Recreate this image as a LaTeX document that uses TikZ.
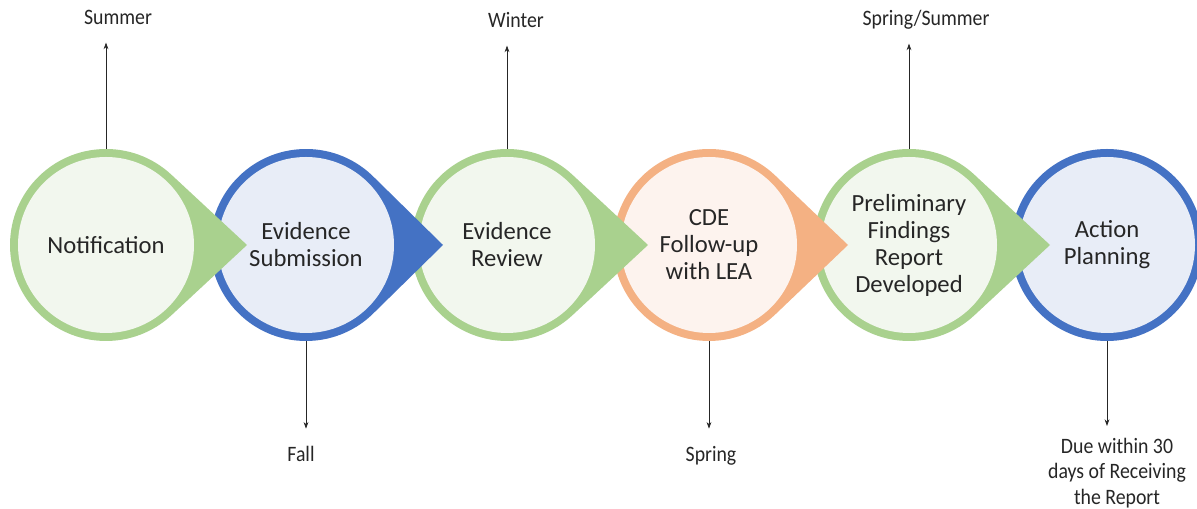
\documentclass[tikz,border=0pt]{standalone}
\usepackage{fontspec}
\setmainfont{Carlito}
\newfontfamily\lblfont[FakeStretch=0.9]{Carlito}
\usetikzlibrary{backgrounds,arrows.meta}

\definecolor{gring}{HTML}{A9D18E}
\definecolor{gfill}{HTML}{F2F7EE}
\definecolor{bring}{HTML}{4472C4}
\definecolor{bfill}{HTML}{E8EDF7}
\definecolor{oring}{HTML}{F4B183}
\definecolor{ofill}{HTML}{FDF3EE}
\definecolor{txt}{HTML}{262626}

\tikzset{
  stage/.style={circle, minimum size=144pt, inner sep=0pt, align=center,
    text=txt, font=\fontsize{18.5}{20.25}\selectfont},
  when/.style={inner sep=0pt, align=center, text=txt,
    font=\lblfont\fontsize{16.5}{19}\selectfont},
  tick/.style={->, line width=0.6pt, draw=txt, shorten >=13pt}
}

\begin{document}
\begin{tikzpicture}[x=0.75pt, y=0.75pt, >={Stealth[length=5pt, width=3.6pt]}]
    \useasboundingbox (0,-264) rectangle (1197,245);
    % stages
    \node[stage] (s1) at (106,0) {Notification};
    \node[stage] (s2) at (306,0) {Evidence\\Submission};
    \node[stage] (s3) at (507,0) {Evidence\\Review};
    \node[stage] (s4) at (709,0) {CDE\\Follow-up\\with LEA};
    \node[stage] (s5) at (909,0) {Preliminary\\Findings\\Report\\Developed};
    \node[stage] (s6) at (1107,0) {Action\\Planning};
    % pointer tips
    \coordinate (p1) at (247,0);
    \coordinate (p2) at (443,0);
    \coordinate (p3) at (648,0);
    \coordinate (p4) at (848,0);
    \coordinate (p5) at (1050,0);
    \begin{scope}[on background layer]
      \fill[bring] (s6.center) circle (96);
      \fill[bfill] (s6.center) circle (88);
      \foreach \i/\ring/\inner in {5/gring/gfill, 4/oring/ofill, 3/gring/gfill, 2/bring/bfill, 1/gring/gfill} {
        \fill[\ring] (p\i) -- ([shift={(47:96)}]s\i.center)
          arc[start angle=47, end angle=313, radius=96] -- cycle;
        \fill[\inner] (s\i.center) circle (88);
      }
    \end{scope}
    % timing
    \node[when, anchor=base, text depth=0pt] (t1) at (118,220) {Summer};
    \node[when, anchor=base, text depth=0pt] (t3) at (516,217) {Winter};
    \node[when, anchor=base, text depth=0pt] (t5) at (926,219) {Spring/Summer};
    \node[when, anchor=north] (t2) at (301,-201) {Fall};
    \node[when, anchor=north] (t4) at (711,-201) {Spring};
    \node[when, anchor=north] (t6) at (1117,-193) {Due within 30\\days of Receiving\\the Report};
    \draw[tick] (s1.north) -- (s1.north |- t1.south);
    \draw[tick] (s3.north) -- (s3.north |- t3.south);
    \draw[tick] (s5.north) -- (s5.north |- t5.south);
    \draw[tick] (s2.south) -- (s2.south |- t2.north);
    \draw[tick] (s4.south) -- (s4.south |- t4.north);
    \draw[tick, shorten >=9pt] (s6.south) -- (s6.south |- t6.north);
\end{tikzpicture}
\end{document}
